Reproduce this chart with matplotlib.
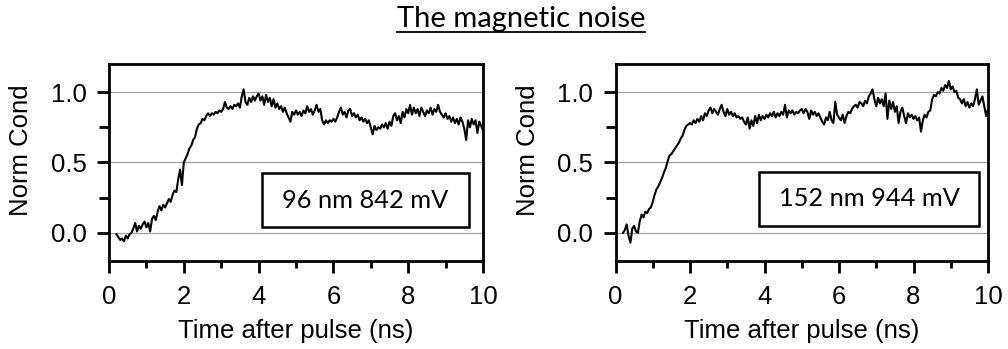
import numpy as np
import matplotlib
matplotlib.use("Agg")
import matplotlib.pyplot as plt
from matplotlib.ticker import MultipleLocator
from matplotlib.patches import Rectangle
from matplotlib.lines import Line2D

title = "The magnetic noise"
xlabel = "Time after pulse (ns)"
ylabel = "Norm Cond"
labels = ["96 nm 842 mV", "152 nm 944 mV"]

# sampling grid (ns)
t = np.round(np.arange(0.20, 10.001, 0.05), 2)

left_vals = [
    -0.01, -0.03, -0.05, -0.04, -0.06, -0.02, -0.04, -0.01, 0.00, 0.03, 0.07, 0.01, 0.05, 0.03, 0.06, 0.08,
    0.04, 0.07, 0.01, 0.10, 0.12, 0.09, 0.15, 0.19, 0.16, 0.20, 0.18, 0.21, 0.24, 0.22, 0.27, 0.30, 0.29, 0.38, 0.45, 0.34,
    0.50, 0.53, 0.56, 0.60, 0.62, 0.66, 0.68, 0.74, 0.77, 0.78, 0.81, 0.80, 0.83, 0.85, 0.83, 0.85, 0.84, 0.86, 0.85, 0.87,
    0.86, 0.88, 0.93, 0.89, 0.88, 0.90, 0.88, 0.91, 0.90, 0.92, 0.89, 0.97, 1.02, 0.93, 0.91, 0.96, 0.93, 0.97, 0.94, 0.97,
    0.99, 0.94, 0.97, 0.91, 0.98, 0.93, 0.96, 0.90, 0.95, 0.89, 0.92, 0.88, 0.90, 0.86, 0.89, 0.85, 0.82, 0.79, 0.86, 0.84,
    0.87, 0.84, 0.86, 0.83, 0.87, 0.85, 0.90, 0.86, 0.88, 0.84, 0.87, 0.91, 0.86, 0.88, 0.80, 0.77, 0.80, 0.78, 0.80, 0.79,
    0.81, 0.79, 0.82, 0.86, 0.89, 0.84, 0.86, 0.82, 0.87, 0.88, 0.83, 0.85, 0.82, 0.84, 0.80, 0.82, 0.79, 0.81, 0.78, 0.80,
    0.75, 0.70, 0.76, 0.73, 0.75, 0.74, 0.77, 0.75, 0.78, 0.74, 0.79, 0.76, 0.83, 0.85, 0.80, 0.83, 0.78, 0.86, 0.82, 0.88,
    0.85, 0.91, 0.84, 0.89, 0.85, 0.88, 0.83, 0.89, 0.86, 0.83, 0.87, 0.85, 0.89, 0.84, 0.88, 0.86, 0.91, 0.86, 0.84, 0.82,
    0.85, 0.81, 0.83, 0.79, 0.82, 0.78, 0.81, 0.77, 0.82, 0.79, 0.74, 0.66, 0.80, 0.75, 0.81, 0.77, 0.80, 0.71, 0.79, 0.76, 0.73,
]

right_vals = [
    0.00, 0.02, 0.06, -0.02, -0.07, 0.03, 0.05, 0.01, 0.00, 0.08, 0.13, 0.11, 0.15, 0.14, 0.17, 0.18,
    0.22, 0.27, 0.31, 0.33, 0.36, 0.39, 0.43, 0.46, 0.51, 0.55, 0.56, 0.58, 0.60, 0.62, 0.64, 0.67, 0.69, 0.73, 0.76, 0.77,
    0.78, 0.77, 0.80, 0.78, 0.81, 0.79, 0.83, 0.80, 0.85, 0.83, 0.87, 0.89, 0.85, 0.88, 0.86, 0.84, 0.88, 0.91, 0.86, 0.83,
    0.88, 0.84, 0.86, 0.83, 0.85, 0.82, 0.83, 0.81, 0.82, 0.79, 0.77, 0.82, 0.74, 0.80, 0.76, 0.83, 0.78, 0.84, 0.80, 0.83,
    0.81, 0.84, 0.82, 0.85, 0.83, 0.86, 0.82, 0.85, 0.83, 0.86, 0.84, 0.91, 0.82, 0.87, 0.85, 0.87, 0.84, 0.86, 0.85, 0.87,
    0.88, 0.85, 0.88, 0.86, 0.81, 0.87, 0.84, 0.86, 0.83, 0.85, 0.82, 0.79, 0.77, 0.82, 0.80, 0.86, 0.80, 0.78, 0.93, 0.84,
    0.82, 0.80, 0.84, 0.78, 0.83, 0.86, 0.85, 0.88, 0.90, 0.91, 0.89, 0.93, 0.92, 0.90, 0.94, 0.92, 0.97, 0.99, 1.02, 0.95,
    0.90, 0.96, 0.92, 0.95, 0.90, 0.99, 0.81, 0.94, 0.88, 0.93, 0.86, 0.90, 0.78, 0.86, 0.89, 0.83, 0.78, 0.85, 0.82, 0.84,
    0.81, 0.83, 0.80, 0.82, 0.72, 0.80, 0.84, 0.82, 0.86, 0.87, 0.95, 0.98, 0.97, 1.00, 0.99, 1.03, 1.01, 1.05, 1.03, 1.08,
    1.02, 1.04, 1.00, 1.01, 0.96, 0.95, 0.92, 0.95, 0.90, 0.93, 0.89, 0.92, 0.90, 0.95, 1.02, 0.91, 0.94, 0.97, 0.90, 0.83, 0.88,
]

W, H = 1008, 349
fig = plt.figure(figsize=(W / 100, H / 100), dpi=100)

axes_px = [(109, 483), (615.5, 988)]
top_px, bot_px = 64, 261
boxes_px = [(262, 469, 173, 227), (759, 979, 172, 226)]
series = [left_vals, right_vals]

for (x0, x1), vals, lab, (bx0, bx1, by0, by1) in zip(axes_px, series, labels, boxes_px):
    ax = fig.add_axes([x0 / W, 1 - bot_px / H, (x1 - x0) / W, (bot_px - top_px) / H])
    ax.plot(t, vals, color="black", lw=1.5)
    ax.set_xlim(0, 10)
    ax.set_ylim(-0.2, 1.2)
    ax.xaxis.set_major_locator(MultipleLocator(2))
    ax.xaxis.set_minor_locator(MultipleLocator(1))
    ax.yaxis.set_major_locator(MultipleLocator(0.5))
    ax.yaxis.set_minor_locator(MultipleLocator(0.25))
    ax.yaxis.set_major_formatter(matplotlib.ticker.FormatStrFormatter("%.1f"))
    for s in ax.spines.values():
        s.set_linewidth(2.0)
    ax.tick_params(which="major", direction="out", length=8.5, width=2.0,
                   labelsize=18.5)
    ax.tick_params(axis="x", which="major", pad=9)
    ax.tick_params(axis="y", which="major", pad=7.5)
    ax.tick_params(axis="x", which="minor", direction="out", length=5, width=2.0)
    ax.tick_params(axis="y", which="minor", direction="out", length=7.5, width=2.0)
    for lbl in ax.get_xticklabels() + ax.get_yticklabels():
        lbl.set_family("Liberation Sans")
    ax.grid(True, axis="y", which="major", color="#a0a0a0", lw=0.9)
    ax.set_axisbelow(True)
    ax.set_xlabel(xlabel, fontsize=18.5, family="Liberation Sans", labelpad=7)
    ax.set_ylabel(ylabel, fontsize=18.5, family="Liberation Sans")
    ax.yaxis.set_label_coords(-0.203, 0.56)
    # annotation box
    rx0 = (bx0 - x0) / (x1 - x0)
    rx1 = (bx1 - x0) / (x1 - x0)
    ry0 = (bot_px - by1) / (bot_px - top_px)
    ry1 = (bot_px - by0) / (bot_px - top_px)
    ax.add_patch(Rectangle((rx0, ry0), rx1 - rx0, ry1 - ry0, transform=ax.transAxes,
                           fill=True, facecolor="white", edgecolor="black", lw=1.8, zorder=5))
    ax.text((rx0 + rx1) / 2, (ry0 + ry1) / 2, lab, transform=ax.transAxes,
            ha="center", va="center", fontsize=18.3, family="Lato", zorder=6)

tt = fig.text(521 / W, 1 - 27 / H, title, ha="center", va="baseline",
              fontsize=21, family="Lato")
fig.canvas.draw()
bb = tt.get_window_extent(fig.canvas.get_renderer())
uy = 1 - 32 / H
fig.add_artist(Line2D([bb.x0 / W, bb.x1 / W], [uy, uy], color="black", lw=1.3,
                      transform=fig.transFigure))

fig.savefig("out.png", dpi=100)
